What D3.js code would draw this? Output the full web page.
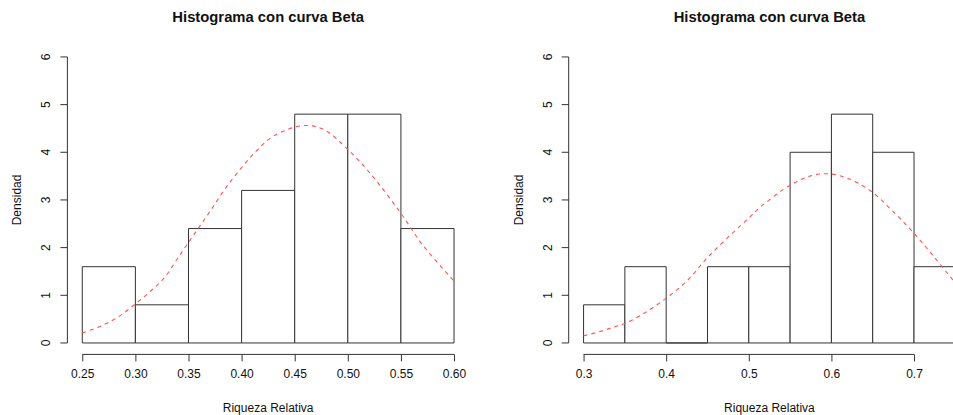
<!DOCTYPE html>
<html lang="es">
<head>
<meta charset="utf-8">
<title>Histograma con curva Beta</title>
<script src="https://cdn.jsdelivr.net/npm/d3@7"></script>
<style>
  body{ margin:0; background:#fff; }
  text{ font-family:"Liberation Sans", Arial, Helvetica, sans-serif; fill:#111; }
</style>
</head>
<body>
<svg id="chart"></svg>
<script>
// panel 1
var breaks1 = [0.25,0.30,0.35,0.40,0.45,0.50,0.55,0.60];
var dens1   = [1.6,0.8,2.4,3.2,4.8,4.8,2.4];
var xticks1 = ["0.25","0.30","0.35","0.40","0.45","0.50","0.55","0.60"];
var curveX1 = [0.25,0.268,0.284,0.30,0.315,0.328,0.342,0.356,0.37,0.384,0.40,0.414,0.43,0.458,0.477,0.50,0.521,0.549,0.571,0.60];
var curveY1 = [0.21,0.36,0.55,0.82,1.10,1.39,1.85,2.30,2.75,3.22,3.68,4.03,4.34,4.56,4.48,4.06,3.56,2.75,2.04,1.30];

// panel 2
var breaks2 = [0.30,0.35,0.40,0.45,0.50,0.55,0.60,0.65,0.70,0.75];
var dens2   = [0.8,1.6,0,1.6,1.6,4.0,4.8,4.0,1.6];
var xticks2 = ["0.3","0.4","0.5","0.6","0.7"];
var curveX2 = [0.30,0.32,0.336,0.35,0.373,0.40,0.425,0.451,0.48,0.50,0.516,0.55,0.574,0.595,0.619,0.649,0.675,0.70,0.724,0.75];
var curveY2 = [0.15,0.24,0.33,0.41,0.62,0.94,1.30,1.81,2.30,2.62,2.88,3.31,3.50,3.55,3.46,3.17,2.75,2.30,1.81,1.26];

var yticks = [0,1,2,3,4,5,6];
var title = "Histograma con curva Beta";
var xlab = "Riqueza Relativa";
var ylab = "Densidad";

var W = 953, H = 415;
var svg = d3.select("#chart").attr("width",W).attr("height",H);

function panel(left, breaks, dens, ticks, cx, cy){
  var pw = 401.5, top = 45.5, bottom = 354.4;
  var lo = breaks[0], hi = breaks[breaks.length-1], pad = (hi-lo)*0.04;
  var x = d3.scaleLinear().domain([lo-pad, hi+pad]).range([left, left+pw]);
  var y = d3.scaleLinear().domain([-0.24, 6.24]).range([bottom, top]);
  var g = svg.append("g");

  // bars as closed paths so empty bins still draw their base line
  var bins = dens.map(function(d,i){ return {x0:breaks[i], x1:breaks[i+1], d:d}; });
  g.selectAll("path.bar").data(bins).enter().append("path")
    .attr("class","bar")
    .attr("d",function(b){
      var p = d3.path();
      p.moveTo(x(b.x0), y(0)); p.lineTo(x(b.x0), y(b.d)); p.lineTo(x(b.x1), y(b.d));
      p.lineTo(x(b.x1), y(0)); p.closePath();
      return p.toString();
    })
    .attr("fill","#fff").attr("stroke","#333").attr("stroke-width",1);

  var line = d3.line().x(function(d){ return x(d[0]); }).y(function(d){ return y(d[1]); }).curve(d3.curveCatmullRom);
  g.append("path").datum(d3.zip(cx,cy))
    .attr("d",line).attr("fill","none")
    .attr("stroke","#f55").attr("stroke-width",1.1).attr("stroke-dasharray","4,4");

  // x axis
  var tv = ticks.map(Number);
  var ax = d3.axisBottom(x).tickValues(tv).tickFormat(function(d,i){ return ticks[i]; }).tickSize(7).tickPadding(8);
  var gx = g.append("g").attr("transform","translate(0,"+bottom+")").call(ax);
  gx.select(".domain").remove();
  gx.append("line").attr("x1",x(tv[0])).attr("x2",x(tv[tv.length-1])).attr("stroke","#333");
  gx.selectAll(".tick line").attr("stroke","#333");
  gx.selectAll(".tick text").attr("font-size",12).attr("font-family","Liberation Sans, Arial, sans-serif").attr("fill","#111");

  // y axis
  var gy = g.append("g");
  gy.append("line").attr("x1",left).attr("x2",left).attr("y1",y(0)).attr("y2",y(6)).attr("stroke","#333");
  gy.selectAll("line.tk").data(yticks).enter().append("line").attr("class","tk")
    .attr("x1",left).attr("x2",left-7).attr("y1",function(d){ return y(d); }).attr("y2",function(d){ return y(d); })
    .attr("stroke","#333");
  gy.selectAll("text").data(yticks).enter().append("text")
    .attr("transform",function(d){ return "translate("+(left-17)+","+y(d)+") rotate(-90)"; })
    .attr("text-anchor","middle").attr("font-size",12).text(function(d){ return d; });

  svg.append("text").attr("x",left+pw/2).attr("y",21.5).attr("text-anchor","middle")
    .attr("font-size",14.8).attr("font-weight","bold").text(title);
  svg.append("text").attr("x",left+pw/2).attr("y",411.5).attr("text-anchor","middle")
    .attr("font-size",12).text(xlab);
  svg.append("text").attr("transform","translate("+(left-46)+","+((top+bottom)/2)+") rotate(-90)")
    .attr("text-anchor","middle").attr("font-size",12).text(ylab);
}

panel(67.4, breaks1, dens1, xticks1, curveX1, curveY1);
panel(568.7, breaks2, dens2, xticks2, curveX2, curveY2);
</script>
</body>
</html>
